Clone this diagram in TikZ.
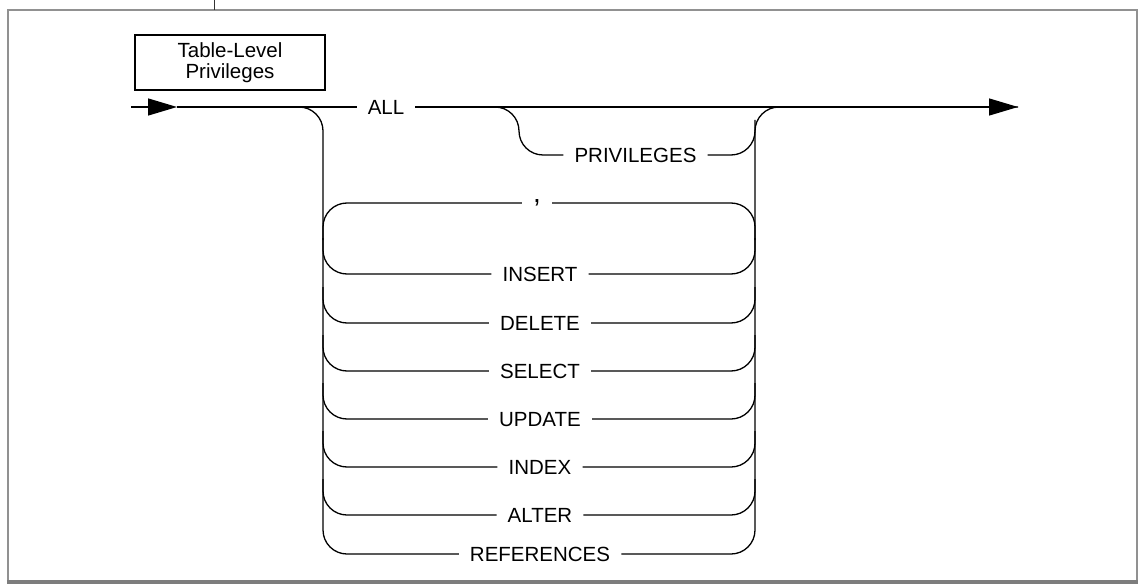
\documentclass[tikz,border=0pt]{standalone}
\usepackage{fontspec}
\setmainfont{Liberation Sans}
\usetikzlibrary{arrows.meta,positioning,calc}

\definecolor{framegray}{RGB}{145,145,145}
\definecolor{framedark}{RGB}{125,125,125}

\tikzset{
  rail/.style={line width=1.3pt, rounded corners=24pt},
  kw/.style={font=\fontsize{20.5}{21}\selectfont, inner ysep=0pt, inner xsep=11pt,
    text height=14.7pt, text depth=0pt},
  sep/.style={kw, font=\fontsize{28}{28}\selectfont, text height=2pt, text depth=3pt, inner xsep=11pt},
  flow/.style={line width=1.3pt, -{Triangle[length=29pt,width=17pt]}},
}

\begin{document}
\begin{tikzpicture}[x=1pt,y=-1pt]
    \useasboundingbox (0,0) rectangle (1139,585);

    % Frame
    \draw[line width=2.5pt, framegray] (8,582) -- (8,10) -- (1137,10) -- (1137,582);
    \draw[line width=4pt, framedark] (6.75,582) -- (1138.25,582);
    \draw[line width=1pt, black!80] (214,0) -- (214,10);

    % Title
    \node[draw, line width=2pt, minimum width=190pt, minimum height=55pt, inner sep=0pt,
      align=center, font=\fontsize{20.5}{21}\selectfont] (title) at (230,62.5)
      {Table-Level\\Privileges};

    % Keywords
    \node[kw] (all) at (386,107) {ALL};
    \node[kw] (priv) at (635.5,155) {PRIVILEGES};
    \node[sep] (comma) at (537,203) {,};
    \node[kw] (insert) at (540,274) {INSERT};
    \node[kw] (delete) at (540,323) {DELETE};
    \node[kw] (select) at (540,371) {SELECT};
    \node[kw] (update) at (540,419) {UPDATE};
    \node[kw] (index) at (540,467) {INDEX};
    \node[kw] (alter) at (540,515) {ALTER};
    \node[kw] (refs) at (540,554) {REFERENCES};

    % Main line
    \coordinate (start) at (131,107);
    \coordinate (inArrow) at (177,107);
    \coordinate (outArrow) at (1018,107);
    \draw[flow] (start) -- (inArrow);
    \draw[line width=1.3pt] (inArrow) -- (all.west);
    \draw[flow] (all.east) -- (outArrow);

    % Rails
    \draw[rail] (inArrow) -- (323,107) -- (323,554) -- (refs.west);
    \draw[rail] (refs.east) -- (755,554) -- (755,107) -- (outArrow);

    % PRIVILEGES
    \draw[rail] (470,107) -- (519,107) -- (519,155) -- (priv.west);
    \draw[rail] (priv.east) -- (755,155) -- (755,120);

    % Repeat loop
    \draw[rail] (323,240) -- (323,203) -- (comma.west);
    \draw[rail] (comma.east) -- (755,203) -- (755,240);

    % Branches
    \foreach \kw/\y in {insert/274,delete/323,select/371,update/419,index/467,alter/515}{
      \draw[rail] (323,\y-36) -- (323,\y) -- (\kw.west);
      \draw[rail] (\kw.east) -- (755,\y) -- (755,\y-36);
    }
\end{tikzpicture}
\end{document}
